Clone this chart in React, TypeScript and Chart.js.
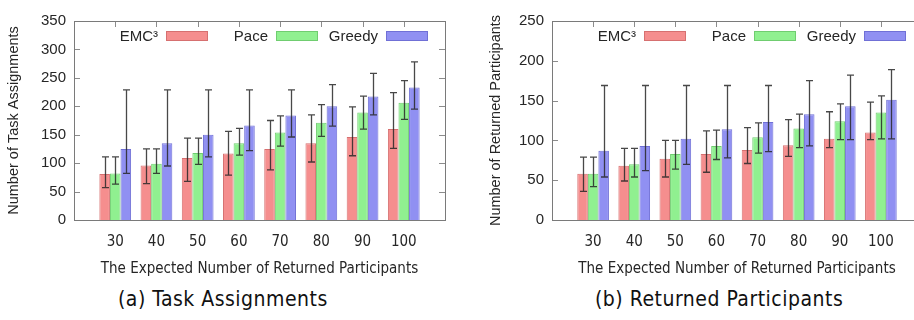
import React, { useEffect, useRef } from 'react';
import { Chart, registerables } from 'chart.js';

Chart.register(...registerables);

// ---------- data ----------
const CATEGORIES = [30, 40, 50, 60, 70, 80, 90, 100];
const SERIES_NAMES = ['EMC³', 'Pace', 'Greedy'];
const X_TITLE = 'The Expected Number of Returned Participants';

// (a) Task Assignments
const TASK_EMC = [81, 96, 109, 117, 125, 135, 146, 160];
const TASK_EMC_LOW = [57, 64, 68, 79, 88, 102, 113, 126];
const TASK_EMC_HIGH = [111, 125, 144, 156, 175, 185, 199, 224];
const TASK_PACE = [82, 99, 118, 135, 154, 171, 189, 206];
const TASK_PACE_LOW = [63, 82, 98, 114, 130, 147, 160, 177];
const TASK_PACE_HIGH = [111, 125, 144, 161, 183, 203, 218, 245];
const TASK_GREEDY = [125, 135, 150, 166, 184, 200, 217, 233];
const TASK_GREEDY_LOW = [82, 95, 111, 122, 146, 165, 185, 195];
const TASK_GREEDY_HIGH = [229, 229, 229, 229, 229, 238, 258, 278];

// (b) Returned Participants
const PART_EMC = [58, 68, 77, 83, 88, 94, 102, 110];
const PART_EMC_LOW = [36, 49, 54, 60, 71, 80, 91, 101];
const PART_EMC_HIGH = [79, 90, 100, 112, 116, 126, 136, 148];
const PART_PACE = [58, 70, 83, 93, 104, 115, 124, 135];
const PART_PACE_LOW = [42, 54, 64, 76, 84, 91, 101, 102];
const PART_PACE_HIGH = [79, 90, 100, 113, 122, 133, 146, 156];
const PART_GREEDY = [87, 93, 102, 114, 123, 133, 143, 151];
const PART_GREEDY_LOW = [54, 62, 70, 78, 86, 93, 101, 102];
const PART_GREEDY_HIGH = [169, 169, 169, 169, 169, 175, 182, 189];

const Y_TICK_STEP = 50;

// ---------- styles ----------
const FILLS = ['rgb(245,142,142)', 'rgb(144,240,144)', 'rgb(144,144,242)'];
const BORDERS = ['rgb(214,112,112)', 'rgb(112,205,112)', 'rgb(112,112,214)'];
const SANS = "'Liberation Sans', Arial, sans-serif";
const NARROW = "'Liberation Sans Narrow', 'Arial Narrow', 'DejaVu Sans Condensed', sans-serif";
const TEXT = '#262626';

const framePlugin = {
  id: 'gnuFrame',
  beforeDatasetsDraw(chart: any) {
    const { ctx, chartArea, scales } = chart;
    const { left, right, top, bottom } = chartArea;
    const x = scales.x;
    const y = scales.y;
    ctx.save();
    ctx.strokeStyle = '#8c8c8c';
    ctx.lineWidth = 1;
    ctx.beginPath();
    y.ticks.forEach((t: any) => {
      const py = Math.round(y.getPixelForValue(t.value)) + 0.5;
      ctx.moveTo(left, py);
      ctx.lineTo(left + 6, py);
      ctx.moveTo(right, py);
      ctx.lineTo(right - 6, py);
    });
    x.ticks.forEach((t: any) => {
      const px = Math.round(x.getPixelForValue(t.value)) + 0.5;
      ctx.moveTo(px, top);
      ctx.lineTo(px, top + 6);
      ctx.moveTo(px, bottom);
      ctx.lineTo(px, bottom - 6);
    });
    ctx.stroke();
    ctx.strokeStyle = '#7a7a7a';
    ctx.strokeRect(Math.round(left) + 0.5, Math.round(top) + 0.5, Math.round(right - left), Math.round(bottom - top));
    ctx.restore();
  },
};

const errorBarPlugin = {
  id: 'errorBars',
  afterDatasetsDraw(chart: any) {
    const { ctx } = chart;
    const y = chart.scales.y;
    ctx.save();
    ctx.strokeStyle = 'rgba(40,40,40,0.85)';
    ctx.lineWidth = 1.3;
    chart.data.datasets.forEach((ds: any, i: number) => {
      const meta = chart.getDatasetMeta(i);
      meta.data.forEach((el: any, j: number) => {
        const lo = y.getPixelForValue(ds.errLow[j]);
        const hi = y.getPixelForValue(ds.errHigh[j]);
        const px = Math.round(el.x) + 0.5;
        ctx.beginPath();
        ctx.moveTo(px, lo);
        ctx.lineTo(px, hi);
        ctx.moveTo(px - 3.5, lo);
        ctx.lineTo(px + 3.5, lo);
        ctx.moveTo(px - 3.5, hi);
        ctx.lineTo(px + 3.5, hi);
        ctx.stroke();
      });
    });
    ctx.restore();
  },
};

const keyPlugin = {
  id: 'gnuKey',
  afterDatasetsDraw(chart: any, _args: any, opts: any) {
    const { ctx, chartArea } = chart;
    ctx.save();
    ctx.font = `15px ${SANS}`;
    ctx.textAlign = 'right';
    ctx.textBaseline = 'middle';
    const cy = chartArea.top + 15;
    chart.data.datasets.forEach((ds: any, i: number) => {
      const boxRight = chartArea.left + opts.firstBoxRight + opts.spacing * i;
      const boxLeft = boxRight - opts.boxWidth;
      ctx.fillStyle = TEXT;
      ctx.fillText(ds.label, boxLeft - 8, cy + 1);
      ctx.fillStyle = ds.backgroundColor;
      ctx.fillRect(boxLeft, cy - 5, opts.boxWidth, 10);
      ctx.strokeStyle = ds.borderColor;
      ctx.lineWidth = 1;
      ctx.strokeRect(boxLeft + 0.5, cy - 5 + 0.5, opts.boxWidth - 1, 9);
    });
    ctx.restore();
  },
};

function makeDatasets(values: number[][], lows: number[][], highs: number[][]) {
  return SERIES_NAMES.map((name, i) => ({
    label: name,
    data: CATEGORIES.map((c, j) => ({ x: c, y: values[i][j] })),
    errLow: lows[i],
    errHigh: highs[i],
    backgroundColor: FILLS[i],
    borderColor: BORDERS[i],
    borderWidth: 1,
    barPercentage: 1,
    categoryPercentage: 0.77,
  }));
}

function makeConfig(p: {
  datasets: any[];
  yMax: number;
  yTitle: string;
  yWidth: number;
  yTitlePad: number;
  padRight: number;
}): any {
  return {
    type: 'bar',
    data: { datasets: p.datasets },
    plugins: [framePlugin, errorBarPlugin, keyPlugin],
    options: {
      responsive: false,
      animation: false,
      devicePixelRatio: 1,
      layout: { padding: { left: 0, right: p.padRight, top: 21, bottom: 0 } },
      plugins: {
        legend: { display: false },
        tooltip: { enabled: false },
        gnuKey: { firstBoxRight: 134, spacing: 110, boxWidth: 42 },
      },
      scales: {
        x: {
          type: 'linear',
          min: 20,
          max: 110,
          offset: false,
          afterBuildTicks: (s: any) => {
            s.ticks = CATEGORIES.map((v) => ({ value: v }));
          },
          afterFit: (s: any) => {
            s.height = 65;
          },
          grid: { display: false, drawTicks: false },
          border: { display: false },
          ticks: {
            padding: 13,
            autoSkip: false,
            maxRotation: 0,
            color: TEXT,
            font: { family: NARROW, size: 15 },
            callback: (v: any) => String(v),
          },
          title: {
            display: true,
            text: X_TITLE,
            color: TEXT,
            font: { family: NARROW, size: 15 },
            padding: { top: 0, bottom: 7 },
          },
        },
        y: {
          min: 0,
          max: p.yMax,
          afterFit: (s: any) => {
            s.width = p.yWidth;
          },
          grid: { display: false, drawTicks: false },
          border: { display: false },
          ticks: {
            stepSize: Y_TICK_STEP,
            padding: 8,
            color: TEXT,
            font: { family: SANS, size: 15 },
          },
          title: {
            display: true,
            text: p.yTitle,
            color: TEXT,
            font: { family: SANS, size: 14.5 },
            padding: { top: p.yTitlePad, bottom: 0 },
          },
        },
      },
    },
  };
}

function ChartCanvas({ config, left, width, height }: { config: () => any; left: number; width: number; height: number }) {
  const ref = useRef<HTMLCanvasElement | null>(null);
  useEffect(() => {
    if (!ref.current) return;
    const chart = new Chart(ref.current, config());
    return () => chart.destroy();
  }, []);
  return (
    <canvas
      ref={ref}
      width={width}
      height={height}
      style={{ position: 'absolute', left, top: 0, width, height }}
    />
  );
}

const captionStyle: React.CSSProperties = {
  position: 'absolute',
  top: 286,
  fontFamily: NARROW,
  fontSize: 21,
  letterSpacing: 0.5,
  color: '#111',
  lineHeight: '26px',
  whiteSpace: 'nowrap',
};

export default function App() {
  const taskConfig = () =>
    makeConfig({
      datasets: makeDatasets(
        [TASK_EMC, TASK_PACE, TASK_GREEDY],
        [TASK_EMC_LOW, TASK_PACE_LOW, TASK_GREEDY_LOW],
        [TASK_EMC_HIGH, TASK_PACE_HIGH, TASK_GREEDY_HIGH]
      ),
      yMax: 350,
      yTitle: 'Number of Task Assignments',
      yWidth: 74,
      yTitlePad: 5,
      padRight: 15,
    });
  const partConfig = () =>
    makeConfig({
      datasets: makeDatasets(
        [PART_EMC, PART_PACE, PART_GREEDY],
        [PART_EMC_LOW, PART_PACE_LOW, PART_GREEDY_LOW],
        [PART_EMC_HIGH, PART_PACE_HIGH, PART_GREEDY_HIGH]
      ),
      yMax: 250,
      yTitle: 'Number of Returned Participants',
      yWidth: 92,
      yTitlePad: 27,
      padRight: 18,
    });
  return (
    <div
      style={{
        position: 'fixed',
        left: 0,
        top: 0,
        width: 914,
        height: 320,
        overflow: 'hidden',
        background: '#fff',
      }}
    >
      <ChartCanvas config={taskConfig} left={0} width={460} height={285} />
      <ChartCanvas config={partConfig} left={460} width={480} height={285} />
      <div style={{ ...captionStyle, left: 118 }}>(a) Task Assignments</div>
      <div style={{ ...captionStyle, left: 595 }}>(b) Returned Participants</div>
    </div>
  );
}
